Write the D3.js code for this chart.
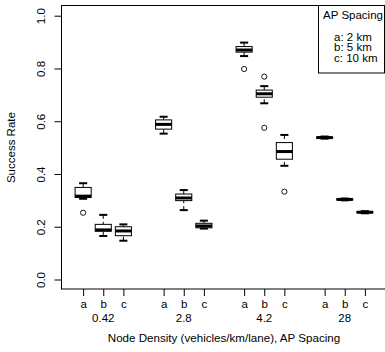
<!DOCTYPE html>
<html><head><meta charset="utf-8">
<script src="https://cdn.jsdelivr.net/npm/d3@7"></script>
<style>body{margin:0;background:#fff}svg{display:block;font-family:"Liberation Sans",Arial,sans-serif}</style>
</head><body><svg id="c" width="385" height="352"></svg>
<script>
const densities = ["0.42", "2.8", "4.2", "28"];
const spacings = ["a", "b", "c"];
// per box, order: 0.42a,0.42b,0.42c, 2.8a..c, 4.2a..c, 28a..c
const whiskerLow  = [0.306, 0.165, 0.147, 0.553, 0.263, 0.193, 0.847, 0.668, 0.431, 0.534, 0.300, 0.251];
const q1          = [0.311, 0.183, 0.166, 0.570, 0.299, 0.196, 0.862, 0.691, 0.456, 0.536, 0.302, 0.253];
const median      = [0.316, 0.188, 0.184, 0.588, 0.309, 0.203, 0.870, 0.704, 0.485, 0.538, 0.3035, 0.255];
const q3          = [0.349, 0.209, 0.200, 0.605, 0.324, 0.213, 0.883, 0.718, 0.519, 0.540, 0.305, 0.257];
const whiskerHigh = [0.365, 0.245, 0.209, 0.617, 0.339, 0.223, 0.898, 0.733, 0.548, 0.542, 0.307, 0.259];
const outliers    = [[0.253], [], [], [], [], [], [0.798], [0.769, 0.575], [0.333], [], [], []];
const yTicks = [0.0, 0.2, 0.4, 0.6, 0.8, 1.0];
const legendTitle = "AP Spacing";
const legendItems = ["a: 2 km", "b: 5 km", "c: 10 km"];

const FS = "11.5px";
const svg = d3.select("#c");
const x = d3.scaleLinear().domain([-0.1, 16.1]).range([61, 387]);
const y = d3.scaleLinear().domain([0, 1]).range([279.5, 15.7]);
const boxes = [];
densities.forEach((d, i) => spacings.forEach((s, j) => {
  const k = i * 3 + j;
  boxes.push({pos: 1 + 4 * i + j, label: s, lo: whiskerLow[k], q1: q1[k], med: median[k], q3: q3[k], hi: whiskerHigh[k], out: outliers[k]});
}));
const bw = x(0.8) - x(0), sw = bw / 2;

// frame
svg.append("rect").attr("x", 61.5).attr("y", 5.5).attr("width", 326).attr("height", 283.5)
  .attr("fill", "none").attr("stroke", "#000").attr("stroke-width", 1);

// y axis
const yAxis = d3.axisLeft(y).tickValues(yTicks).tickSize(7).tickFormat(d3.format(".1f"));
const ga = svg.append("g").attr("transform", "translate(61.5,0)").call(yAxis);
ga.select(".domain").remove();
ga.selectAll(".tick text").attr("x", 0).attr("y", 0).attr("dy", "0.35em")
  .attr("transform", "translate(-21,0) rotate(-90)")
  .attr("text-anchor", "middle").style("font-size", FS).style("font-family", "'Liberation Sans',Arial,sans-serif");

// x axis ticks
const xAxis = d3.axisBottom(x).tickValues(boxes.map(b => b.pos)).tickSize(7)
  .tickFormat((d, i) => boxes[i].label);
const gx = svg.append("g").attr("transform", "translate(0,289)").call(xAxis);
gx.select(".domain").remove();
gx.selectAll("text").attr("y", 11).style("font-size", FS).style("font-family", "'Liberation Sans',Arial,sans-serif");
// group labels
svg.append("g").selectAll("text").data(densities).join("text")
  .attr("x", (d, i) => x(2 + 4 * i)).attr("y", 322).attr("text-anchor", "middle")
  .style("font-size", FS).text(d => d);

// titles
svg.append("text").attr("x", 224).attr("y", 342).attr("text-anchor", "middle").style("font-size", "11.6px")
  .text("Node Density (vehicles/km/lane), AP Spacing");
svg.append("text").attr("transform", `translate(15,${y(0.5)}) rotate(-90)`).attr("text-anchor", "middle")
  .style("font-size", FS).text("Success Rate");

// boxes
const g = svg.append("g").selectAll("g").data(boxes).join("g");
g.append("line").attr("x1", d => x(d.pos)).attr("x2", d => x(d.pos)).attr("y1", d => y(d.hi)).attr("y2", d => y(d.q3))
  .attr("stroke", "#000").attr("stroke-dasharray", "4,3");
g.append("line").attr("x1", d => x(d.pos)).attr("x2", d => x(d.pos)).attr("y1", d => y(d.lo)).attr("y2", d => y(d.q1))
  .attr("stroke", "#000").attr("stroke-dasharray", "4,3");
g.append("line").attr("x1", d => x(d.pos) - sw / 2).attr("x2", d => x(d.pos) + sw / 2).attr("y1", d => y(d.hi)).attr("y2", d => y(d.hi))
  .attr("stroke", "#000").attr("stroke-width", 2);
g.append("line").attr("x1", d => x(d.pos) - sw / 2).attr("x2", d => x(d.pos) + sw / 2).attr("y1", d => y(d.lo)).attr("y2", d => y(d.lo))
  .attr("stroke", "#000").attr("stroke-width", 2);
g.append("rect").attr("x", d => x(d.pos) - bw / 2).attr("width", bw).attr("y", d => y(d.q3)).attr("height", d => y(d.q1) - y(d.q3))
  .attr("fill", "#fff").attr("stroke", "#000");
g.append("line").attr("x1", d => x(d.pos) - bw / 2).attr("x2", d => x(d.pos) + bw / 2).attr("y1", d => y(d.med)).attr("y2", d => y(d.med))
  .attr("stroke", "#000").attr("stroke-width", 3);
g.selectAll("circle").data(d => d.out.map(v => ({pos: d.pos, v}))).join("circle")
  .attr("cx", d => x(d.pos)).attr("cy", d => y(d.v)).attr("r", 2.6).attr("fill", "none").attr("stroke", "#000").attr("stroke-width", 0.9);

// legend
svg.append("rect").attr("x", 318.5).attr("y", 5.5).attr("width", 66).attr("height", 67.5).attr("fill", "#fff").attr("stroke", "#000");
svg.append("text").attr("x", 353).attr("y", 19).attr("text-anchor", "middle").style("font-size", FS).text(legendTitle);
svg.append("g").selectAll("text").data(legendItems).join("text")
  .attr("x", 334).attr("y", (d, i) => 40.5 + i * 10.8).style("font-size", FS).text(d => d);
</script></body></html>
